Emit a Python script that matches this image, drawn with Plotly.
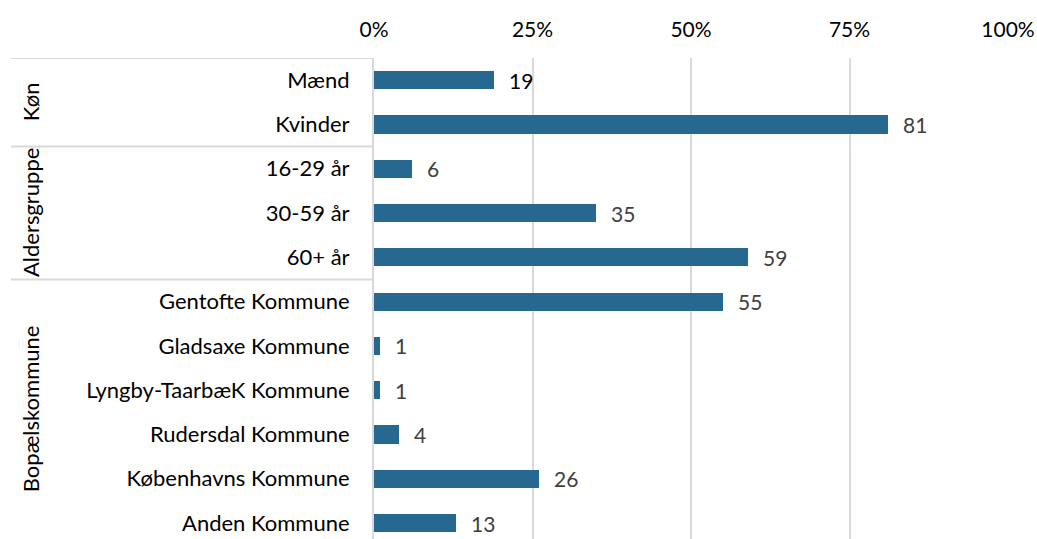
import plotly.graph_objects as go

# Survey composition by respondent group (percent)
categories = [
    "Mænd", "Kvinder",
    "16-29 år", "30-59 år", "60+ år",
    "Gentofte Kommune", "Gladsaxe Kommune", "Lyngby-TaarbæK Kommune",
    "Rudersdal Kommune", "Københavns Kommune", "Anden Kommune",
]
values = [19, 81, 6, 35, 59, 55, 1, 1, 4, 26, 13]

# Group headings: (label, first row index, last row index)
groups = [("Køn", 0, 1), ("Aldersgruppe", 2, 4), ("Bopælskommune", 5, 10)]

x_ticks = [0, 25, 50, 75, 100]

BAR = "#266890"
GRID = "#d9d9d9"
FONT = "Lato"
TXT = 22
NUM = 21

W, H = 1037, 539
L, R, T, B = 374, 29, 58, 0
Y_BOTTOM = 10.36

rows = list(range(len(categories)))

fig = go.Figure()
fig.add_trace(go.Bar(
    x=values, y=rows, orientation="h",
    marker=dict(color=BAR, line=dict(width=0)),
    width=0.41, hoverinfo="skip",
))

# value labels next to each bar
for i, v in enumerate(values):
    fig.add_annotation(
        x=v, y=i, xref="x", yref="y", text=str(v), showarrow=False,
        xanchor="left", xshift=13,
        font=dict(family=FONT, size=NUM, color="#000000" if i == 0 else "#404040"),
    )

# separators between groups in the label column
left_px = 11
for _, start, _ in groups:
    fig.add_shape(
        type="line", xref="paper", yref="y",
        x0=(left_px - L) / (W - L - R), x1=0, y0=start - 0.5, y1=start - 0.5,
        line=dict(color=GRID, width=2), layer="below",
    )

# rotated group headings
for name, start, end in groups:
    y_mid = (start + end) / 2
    if end == len(categories) - 1:
        y_mid = (start - 0.5 + Y_BOTTOM) / 2
    fig.add_annotation(
        x=(30 - L) / (W - L - R), y=y_mid, xref="paper", yref="y",
        xanchor="center", yanchor="middle",
        text=name, showarrow=False, textangle=-90,
        font=dict(family=FONT, size=TXT, color="#000000"),
    )

fig.update_layout(
    width=W, height=H,
    margin=dict(l=L, r=R, t=T, b=B, pad=0),
    paper_bgcolor="white", plot_bgcolor="white",
    showlegend=False,
    font=dict(family=FONT, size=TXT, color="#000000"),
    bargap=0,
)
fig.update_xaxes(
    side="top", range=[0, 100], tickvals=x_ticks,
    ticktext=[f"{t}%" for t in x_ticks],
    showgrid=True, gridcolor=GRID, gridwidth=2,
    zeroline=False, showline=False, ticks="",
    ticklabelstandoff=16,
    tickfont=dict(family=FONT, size=NUM, color="#000000"),
    fixedrange=True,
)
fig.update_yaxes(
    range=[Y_BOTTOM, -0.5], tickvals=rows, ticktext=categories,
    showgrid=False, zeroline=False,
    showline=True, linecolor=GRID, linewidth=2,
    ticks="", ticklabelstandoff=18,
    tickfont=dict(family=FONT, size=TXT, color="#000000"),
    fixedrange=True,
)

fig.write_html("out.html")
